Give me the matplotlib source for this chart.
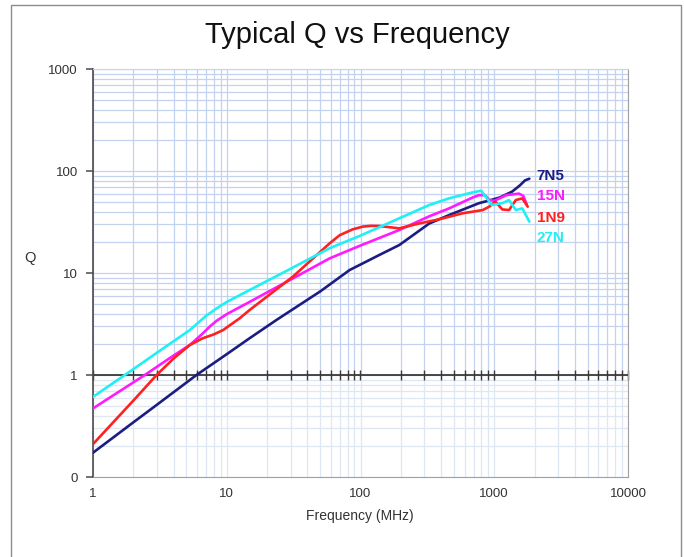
import matplotlib
matplotlib.use("Agg")
import matplotlib.pyplot as plt
from matplotlib.patches import Rectangle
from matplotlib.ticker import FixedLocator, NullFormatter, NullLocator

# ---- data ----
f_7n5 = [1, 2, 3, 5.94, 10, 14.8, 23.5, 50, 83, 138, 195, 327, 460, 770, 917, 1100, 1360, 1550, 1700, 1830]
q_7n5 = [0.173, 0.343, 0.51, 1.0, 1.6, 2.29, 3.46, 6.6, 10.7, 15.0, 18.8, 30.6, 37, 48.4, 51.4, 55, 62.8, 72, 81, 84]

f_15n = [1, 2.44, 4, 5.3, 6.5, 7.5, 8.4, 10, 14.8, 30, 58.7, 98, 195, 327, 460, 690, 770, 850, 917, 1000, 1100, 1230, 1530, 1650, 1750]
q_15n = [0.47, 1.0, 1.55, 1.97, 2.5, 3.0, 3.4, 3.95, 5.2, 8.6, 13.9, 18.4, 26.4, 36, 43, 55, 58, 58, 52, 51, 54, 58, 60, 57, 47]

f_1n9 = [1, 2, 2.99, 4, 5.3, 6.6, 8, 9.4, 12.5, 14.8, 31.2, 58.7, 70, 87.5, 104, 120, 138, 195, 275, 387, 580, 820, 917, 1020, 1150, 1290, 1450, 1620, 1780]
q_1n9 = [0.21, 0.56, 1.0, 1.45, 1.97, 2.29, 2.5, 2.76, 3.6, 4.33, 9.2, 19.5, 23.5, 26.8, 28.5, 29.0, 28.9, 27.4, 30.6, 33.6, 38.5, 41.4, 44.7, 50, 42, 41.4, 51.9, 53.9, 44.7]

f_27n = [1, 1.73, 3, 5.3, 7, 8.4, 10, 14.8, 30, 58.7, 98, 195, 327, 460, 700, 800, 870, 960, 1150, 1290, 1450, 1620, 1830]
q_27n = [0.61, 1.0, 1.65, 2.76, 3.8, 4.5, 5.2, 6.8, 11.0, 17.5, 23.0, 34.4, 46.4, 54, 62, 64, 55, 46.4, 48.4, 51.9, 41.4, 43, 31.9]

series_names = ["7N5", "15N", "1N9", "27N"]
series_colors = ["#1c1d80", "#ff1aff", "#ff2020", "#1ff0f5"]
label_q = [89, 57, 34.5, 22]
label_f = 2080

x_ticks = [1, 10, 100, 1000, 10000]
x_ticklabels = ["1", "10", "100", "1000", "10000"]
y_ticks = [0.1, 1, 10, 100, 1000]
y_ticklabels = ["0", "1", "10", "100", "1000"]

title = "Typical Q vs Frequency"
xlabel = "Frequency (MHz)"
ylabel = "Q"

# ---- styling ----
fam = ["Liberation Sans Narrow", "Liberation Sans", "DejaVu Sans"]
plt.rcParams["font.family"] = fam

fig = plt.figure(figsize=(6.84, 5.57), dpi=100)
fig.patch.set_facecolor("white")
W, H = 684, 557
fig.patches.append(Rectangle((11 / W, -0.01), (681 - 11) / W, 1 - 5 / H + 0.01,
                             transform=fig.transFigure, fill=False,
                             edgecolor="#8c8c8c", linewidth=1.0))

L, R, T, B = 93, 628, 69, 477
ax = fig.add_axes([L / W, 1 - B / H, (R - L) / W, (B - T) / H])
ax.set_xscale("log")
ax.set_yscale("log")
ax.set_xlim(1, 10000)
ax.set_ylim(0.1, 1000)

# grid (manual, lighter below Q=1)
grid_dark = "#c3d2ee"
grid_light = "#dfe7f5"
frac1 = 0.25
xs_grid = [k * 10 ** n for n in range(0, 4) for k in range(1, 10)] + [10000]
for xg in xs_grid:
    ax.axvline(xg, ymin=frac1, ymax=1, color=grid_dark, lw=0.9, zorder=0)
    ax.axvline(xg, ymin=0, ymax=frac1, color=grid_light, lw=0.9, zorder=0)
ys_grid = [k * 10 ** n for n in range(-1, 3) for k in range(1, 10)] + [1000]
for yg in ys_grid:
    c = grid_dark if yg >= 1 else grid_light
    ax.axhline(yg, color=c, lw=0.9, zorder=0)

# axis line at Q = 1 with ticks
ax.axhline(1, color="#3a3a3a", lw=1.3, zorder=1)
sec = ax.secondary_xaxis(frac1)
sec.set_xscale("log")
sec.spines["bottom"].set_visible(False)
sec.xaxis.set_major_locator(FixedLocator(x_ticks))
sec.xaxis.set_minor_locator(FixedLocator([k * 10 ** n for n in range(0, 4) for k in range(2, 10)]))
sec.tick_params(which="both", direction="inout", length=7, width=1.0, color="#3a3a3a",
                labelbottom=False)
sec.xaxis.set_minor_formatter(NullFormatter())

# series
for fx, qy, col in zip([f_7n5, f_15n, f_1n9, f_27n], [q_7n5, q_15n, q_1n9, q_27n], series_colors):
    ax.plot(fx, qy, color=col, lw=1.9, solid_joinstyle="round", solid_capstyle="round", zorder=3)

for name, col, qy in zip(series_names, series_colors, label_q):
    ax.text(label_f, qy, name, color=col, fontsize=11, fontweight="bold",
            ha="left", va="center", family=fam)

# spines
ax.spines["left"].set_color("#4a4a4a")
ax.spines["left"].set_linewidth(1.2)
ax.spines["top"].set_color(grid_dark)
ax.spines["right"].set_color("#a0a0a0")
ax.spines["bottom"].set_color("#a0a0a0")

ax.xaxis.set_major_locator(FixedLocator(x_ticks))
ax.xaxis.set_minor_locator(NullLocator())
ax.set_xticklabels(x_ticklabels)
ax.tick_params(axis="x", length=0, pad=8, labelsize=9.5, labelcolor="#333333")
ax.yaxis.set_major_locator(FixedLocator(y_ticks))
ax.yaxis.set_minor_locator(NullLocator())
ax.set_yticklabels(y_ticklabels)
ax.tick_params(axis="y", direction="out", length=5, width=1.1, color="#4a4a4a",
               pad=6, labelsize=9.5, labelcolor="#333333")

fig.text(357 / W, 1 - 35 / H, title, fontsize=21, ha="center", va="center", color="#111111")
fig.text(360 / W, 1 - 516 / H, xlabel, fontsize=10, ha="center", va="center", color="#333333")
fig.text(30 / W, 1 - 258 / H, ylabel, fontsize=10.5, ha="center", va="center", color="#333333")

fig.savefig("out.png", dpi=100, facecolor="white")
